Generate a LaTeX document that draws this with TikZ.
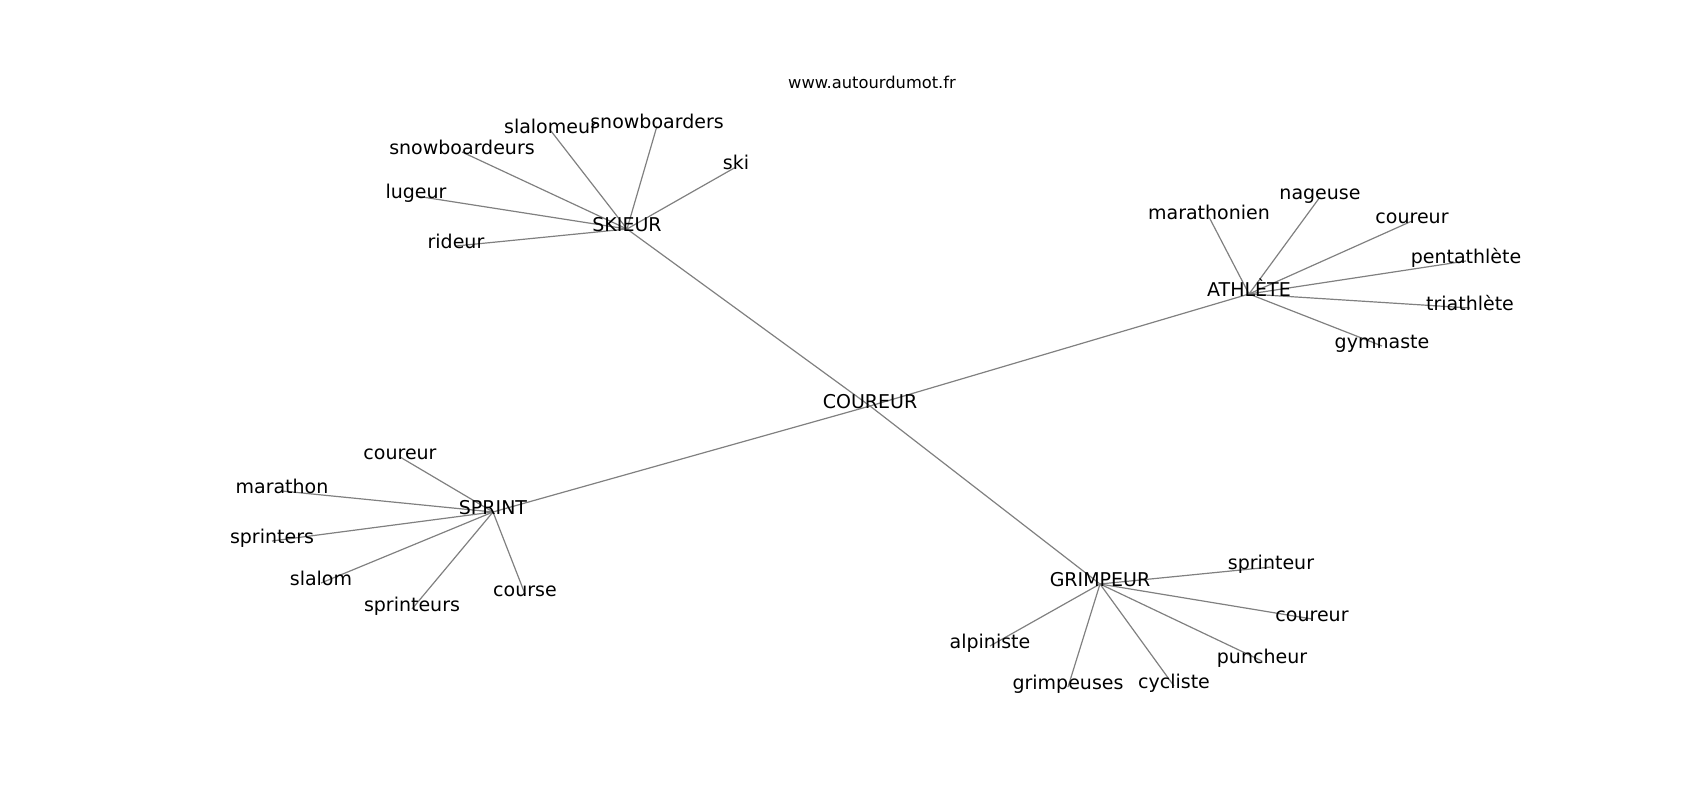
\documentclass[tikz,border=0pt]{standalone}
\usepackage{fontspec}
\setmainfont{DejaVu Sans}
\usepackage{tikz}
\usetikzlibrary{backgrounds}

\begin{document}
\begin{tikzpicture}[x=1pt,y=-1pt,
  word/.style={inner sep=0pt,font=\fontsize{19}{23}\selectfont,text height=0.73em,text depth=0.2em},
  edge/.style={draw={rgb,255:red,128;green,128;blue,128},line width=1.2pt}]
\useasboundingbox (0,0) rectangle (1700,800);
\node (site) [inner sep=0pt,font=\fontsize{16.3}{20}\selectfont] at (872,82) {www.autourdumot.fr};

\node (coureur) [word] at (870,406) {COUREUR};
\node (skieur) [word] at (627,229) {SKIEUR};
\node (athlete) [word] at (1249,294) {ATHLÈTE};
\node (sprint) [word] at (493,512) {SPRINT};
\node (grimpeur) [word] at (1100,584) {GRIMPEUR};

\node (rideur) [word] at (456,246) {rideur};
\node (lugeur) [word] at (416,196) {lugeur};
\node (snowboardeurs) [word] at (462,152) {snowboardeurs};
\node (slalomeur) [word] at (551,131) {slalomeur};
\node (snowboarders) [word] at (657,126) {snowboarders};
\node (ski) [word] at (736,167) {ski};

\node (marathonien) [word] at (1209,217) {marathonien};
\node (nageuse) [word] at (1320,197) {nageuse};
\node (athcoureur) [word] at (1412,221) {coureur};
\node (pentathlete) [word] at (1466,261) {pentathlète};
\node (triathlete) [word] at (1470,308) {triathlète};
\node (gymnaste) [word] at (1382,346) {gymnaste};

\node (spcoureur) [word] at (400,457) {coureur};
\node (marathon) [word] at (282,491) {marathon};
\node (sprinters) [word] at (272,541) {sprinters};
\node (slalom) [word] at (321,583) {slalom};
\node (sprinteurs) [word] at (412,609) {sprinteurs};
\node (course) [word] at (525,594) {course};

\node (sprinteur) [word] at (1271,567) {sprinteur};
\node (grcoureur) [word] at (1312,619) {coureur};
\node (puncheur) [word] at (1262,661) {puncheur};
\node (cycliste) [word] at (1174,686) {cycliste};
\node (grimpeuses) [word] at (1068,687) {grimpeuses};
\node (alpiniste) [word] at (990,646) {alpiniste};

\begin{scope}[on background layer]
\draw[edge] (coureur.center) to (skieur.center);
\draw[edge] (coureur.center) to (athlete.center);
\draw[edge] (coureur.center) to (sprint.center);
\draw[edge] (coureur.center) to (grimpeur.center);

\foreach \leaf in {rideur,lugeur,snowboardeurs,slalomeur,snowboarders,ski}
  \draw[edge] (skieur.center) to (\leaf.center);
\foreach \leaf in {marathonien,nageuse,athcoureur,pentathlete,triathlete,gymnaste}
  \draw[edge] (athlete.center) to (\leaf.center);
\foreach \leaf in {spcoureur,marathon,sprinters,slalom,sprinteurs,course}
  \draw[edge] (sprint.center) to (\leaf.center);
\foreach \leaf in {sprinteur,grcoureur,puncheur,cycliste,grimpeuses,alpiniste}
  \draw[edge] (grimpeur.center) to (\leaf.center);
\end{scope}
\end{tikzpicture}
\end{document}
